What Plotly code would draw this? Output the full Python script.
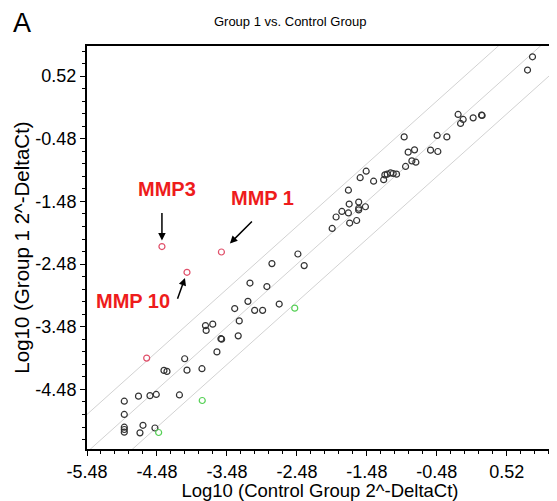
import math
import plotly.graph_objects as go

# ---------------- data (log10 2^-DeltaCt) ----------------
ctrl_x = [0.887, 0.816, -0.176, -0.104, -0.141, 0.039, 0.159, 0.167, -0.947, -0.476,
          -0.337, -0.890, -0.799, -0.570, -0.466, -0.837, -0.780, -0.927, -1.490, -1.576,
          -1.384, -1.240, -1.223, -1.190, -1.141, -1.104, -1.056, -1.744, -1.733, -1.597,
          -1.597, -1.597, -1.501, -1.837, -1.920, -1.744, -1.726, -1.626, -1.976, -2.466,
          -2.376, -2.837, -3.151, -2.909, -3.180, -3.369, -3.084, -2.970, -2.733, -3.304,
          -3.787, -3.777, -3.683, -3.566, -3.556, -3.319, -3.623, -4.084, -4.380, -4.337,
          -4.051, -3.837, -4.947, -4.744, -4.580, -4.490, -4.159, -4.947, -4.947, -4.947,
          -4.947, -4.680, -4.723, -4.509]
grp1_y = [0.828, 0.616, -0.092, -0.172, -0.236, -0.146, -0.103, -0.108, -0.450, -0.427,
          -0.450, -0.694, -0.657, -0.662, -0.683, -0.833, -0.854, -0.922, -0.998, -1.101,
          -1.157, -1.133, -1.057, -1.045, -1.025, -1.034, -1.045, -1.301, -1.522, -1.490,
          -1.589, -1.616, -1.565, -1.640, -1.728, -1.664, -1.825, -1.784, -1.911, -2.319,
          -2.504, -2.472, -2.782, -2.838, -3.074, -3.189, -3.218, -3.218, -3.117, -3.386,
          -3.461, -3.538, -3.438, -3.670, -3.677, -3.625, -3.881, -3.990, -4.176, -4.192,
          -4.172, -4.149, -4.667, -4.587, -4.579, -4.560, -4.568, -4.879, -5.082, -5.119,
          -5.162, -5.052, -5.172, -5.095]

up_genes = ["MMP3", "MMP 1", "MMP 10", ""]
up_x = [-4.409, -3.559, -4.051, -4.627]
up_y = [-2.200, -2.287, -2.611, -3.980]

down_x = [-2.511, -3.833, -4.456]
down_y = [-3.183, -4.656, -5.167]

fold_threshold = 4
tick_labels = ["-5.48", "-4.48", "-3.48", "-2.48", "-1.48", "-0.48", "0.52"]
tick_vals = [float(t) for t in tick_labels]

x_range = [-5.48, 1.18]
y_range = [-5.43, 1.0]

FONT = "Liberation Sans, Arial, sans-serif"

# ---------------- figure ----------------
fig = go.Figure()

off = math.log10(fold_threshold)
lx = [-7.0, 2.0]
for d in (off, 0.0, -off):
    fig.add_trace(go.Scatter(x=lx, y=[v + d for v in lx], mode="lines",
                             line=dict(color="#d2d2d2", width=1),
                             hoverinfo="skip", showlegend=False))

fig.add_trace(go.Scatter(x=ctrl_x, y=grp1_y, mode="markers",
                         marker=dict(symbol="circle-open", size=6, color="#333333",
                                     line=dict(width=1.2)),
                         showlegend=False))
fig.add_trace(go.Scatter(x=up_x, y=up_y, mode="markers", text=up_genes,
                         marker=dict(symbol="circle-open", size=6, color="#e0506a",
                                     line=dict(width=1.2)),
                         showlegend=False))
fig.add_trace(go.Scatter(x=down_x, y=down_y, mode="markers",
                         marker=dict(symbol="circle-open", size=6, color="#55d055",
                                     line=dict(width=1.2)),
                         showlegend=False))

# labels with arrows (pixel offsets relative to the labelled points)
label_style = [
    # text shift (x, y), arrow tail (ax, ay), standoff
    ((5, 58), (0, -35), 6),
    ((41, 54), (32, -32), 12),
    ((-54, -29), (-10, 28), 6),
]
for i, (tshift, tail, so) in enumerate(label_style):
    fig.add_annotation(x=up_x[i], y=up_y[i], text="", showarrow=True,
                       ax=tail[0], ay=tail[1], arrowhead=2, arrowsize=1,
                       arrowwidth=1.5, arrowcolor="black", standoff=so)
    fig.add_annotation(x=up_x[i], y=up_y[i], text="<b>%s</b>" % up_genes[i],
                       showarrow=False, xshift=tshift[0], yshift=tshift[1],
                       font=dict(family=FONT, size=20, color="#ee1c1c"))

fig.add_annotation(xref="paper", yref="paper", x=-0.16, y=1.0565, text="A",
                   showarrow=False, xanchor="left", yanchor="middle",
                   borderpad=0,
                   font=dict(family=FONT, size=27, color="black"))

axis_common = dict(
    tickvals=tick_vals, ticktext=tick_labels, ticks="outside", ticklen=5,
    tickwidth=1, tickcolor="black", showline=True, linecolor="black",
    linewidth=2, mirror=True, showgrid=False, zeroline=False, automargin=False,
    tickfont=dict(family=FONT, size=18, color="black"),
    minor=dict(dtick=0.2, tick0=-5.48, ticks="outside", ticklen=3,
               tickcolor="black", tickwidth=1, showgrid=False),
)

# page body adds an 8px margin, so the figure is sized to fit the 557x501 window
fig.update_layout(
    width=549, height=493,
    margin=dict(l=79, r=4, t=38, b=52, autoexpand=False),
    paper_bgcolor="white", plot_bgcolor="white",
    title=dict(text="Group 1 vs. Control Group", x=0.514, xanchor="center",
               y=0.973, yanchor="middle",
               font=dict(family=FONT, size=13, color="black")),
    xaxis=dict(range=x_range, **axis_common,
               title=dict(text="Log10 (Control Group 2^-DeltaCt)", standoff=0,
                          font=dict(family=FONT, size=18.5, color="black"))),
    yaxis=dict(range=y_range, **axis_common,
               title=dict(text="Log10 (Group 1 2^-DeltaCt)", standoff=0,
                          font=dict(family=FONT, size=20.5, color="black"))),
    showlegend=False,
)

fig.write_html("out.html")
